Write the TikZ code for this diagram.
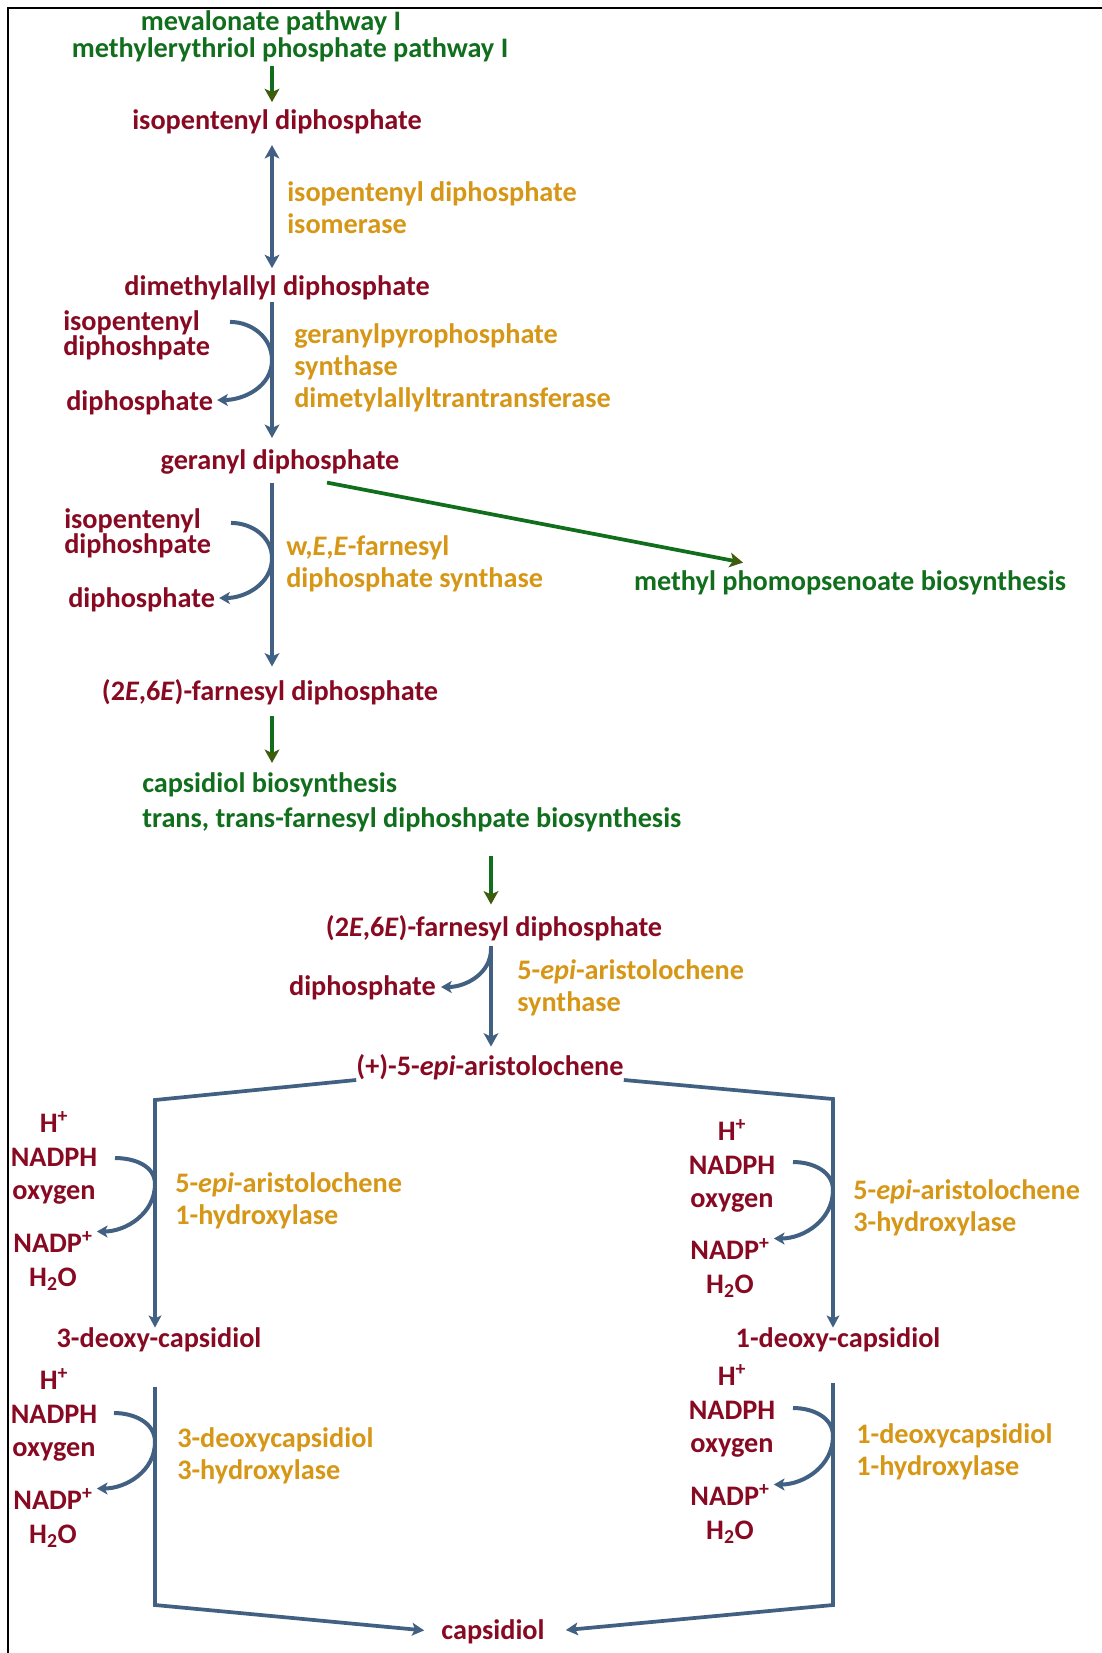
\documentclass[tikz,border=0pt]{standalone}
\usepackage{fontspec}
\setmainfont{Carlito}
\usetikzlibrary{arrows.meta, calc, positioning}

\definecolor{metred}{RGB}{136,10,34}
\definecolor{enzorange}{RGB}{214,150,22}
\definecolor{pwgreen}{RGB}{16,110,28}
\definecolor{pwhead}{RGB}{62,92,12}
\definecolor{rxnblue}{RGB}{66,96,130}

\begin{document}
\begin{tikzpicture}[x=0.75pt, y=-0.75pt]
		\tikzstyle{met} = [text=metred, font=\bfseries\fontsize{21.2}{24}\selectfont, inner sep=0pt]
		\tikzstyle{side} = [met, align=left, anchor=west, font=\bfseries\fontsize{21.2}{19}\selectfont]
		\tikzstyle{cof} = [met, align=center, font=\bfseries\fontsize{21.2}{25}\selectfont]
		\tikzstyle{enz} = [text=enzorange, font=\bfseries\fontsize{21.2}{24}\selectfont, inner sep=0pt, align=left, anchor=west]
		\tikzstyle{pw} = [text=pwgreen, font=\bfseries\fontsize{21.2}{26}\selectfont, inner sep=0pt]
		\tikzstyle{rxn} = [draw=rxnblue, line width=3.4pt, -{Stealth[length=10pt, width=11pt, inset=2.5pt]}]
		\tikzstyle{rev} = [draw=rxnblue, line width=3.4pt, {Stealth[length=10pt, width=11pt, inset=2.5pt]}-{Stealth[length=10pt, width=11pt, inset=2.5pt]}]
		\tikzstyle{sidearrow} = [draw=rxnblue, line width=3pt, -{Stealth[length=8pt, width=9pt, inset=2pt]}]
		\tikzstyle{branch} = [draw=rxnblue, line width=2.8pt, -{Stealth[length=9pt, width=9.5pt, inset=2pt]}]
		\tikzstyle{pwarrow} = [draw=pwgreen, line width=3.4pt, -{Stealth[length=10pt, width=11pt, inset=2.5pt, color=pwhead]}]
		
		\useasboundingbox (0,0) rectangle (1102,1653);
		\draw [line width=1.5pt, black] (1102,8) -- (8,8) -- (8,1653);
		
		% reaction axes
		\coordinate (axA) at (272,0);
		\coordinate (axB) at (491,0);
		\coordinate (axL) at (155,0);
		\coordinate (axR) at (833,0);
		\coordinate (cornL) at (155,1100);
		\coordinate (cornR) at (833,1099);
		\coordinate (cornL2) at (155,1605);
		\coordinate (cornR2) at (833,1605);
		
		% upper chain
		\node (mva) [pw] at (271,23) {mevalonate pathway I};
		\node (mep) [pw] at (290,50) {methylerythriol phosphate pathway I};
		\node (ipp) [met] at (277,122) {isopentenyl diphosphate};
		\node (ipi) [enz] at (287,208) {isopentenyl diphosphate\\isomerase};
		\node (dmapp) [met] at (277,288) {dimethylallyl diphosphate};
		\node (ippA) [side] at (63,335) {isopentenyl\\diphoshpate};
		\node (ppiA) [met, anchor=west] at (66,403) {diphosphate};
		\node (gps) [enz] at (294,368) {geranylpyrophosphate\\synthase\\dimetylallyltrantransferase};
		\node (gpp) [met] at (280,462) {geranyl diphosphate};
		\node (ippB) [side] at (64,533) {isopentenyl\\diphoshpate};
		\node (ppiB) [met, anchor=west] at (68,600) {diphosphate};
		\node (fpps) [enz] at (286,564) {w,\textit{E},\textit{E}-farnesyl\\diphosphate synthase};
		\node (mpb) [pw] at (850,583) {methyl phomopsenoate biosynthesis};
		\node (fpp) [met] at (270,692) {(2\textit{E},6\textit{E})-farnesyl diphosphate};
		\node (cap) [pw, align=left, anchor=west] at (142,802) {capsidiol biosynthesis\\trans, trans-farnesyl diphoshpate biosynthesis};
		\node (fppB) [met] at (494,928) {(2\textit{E},6\textit{E})-farnesyl diphosphate};
		\node (ppiC) [met, anchor=east] at (436,988) {diphosphate};
		\node (eas) [enz] at (517,988) {5-\textit{epi}-aristolochene\\synthase};
		\node (epi) [met] at (490,1067) {(+)-5-\textit{epi}-aristolochene};
		
		% left branch
		\node (cofL1) [cof] at (54,1158) {H\textsuperscript{+}\\NADPH\\oxygen};
		\node (prodL1) [cof] at (53,1261) {NADP\textsuperscript{+}\\H\textsubscript{2}O};
		\node (eahL) [enz] at (175,1201) {5-\textit{epi}-aristolochene\\1-hydroxylase};
		\node (dcL) [met] at (159,1340) {3-deoxy-capsidiol};
		\node (cofL2) [cof] at (54,1415) {H\textsuperscript{+}\\NADPH\\oxygen};
		\node (prodL2) [cof] at (53,1518) {NADP\textsuperscript{+}\\H\textsubscript{2}O};
		\node (dhL) [enz] at (177,1456) {3-deoxycapsidiol\\3-hydroxylase};
		
		% right branch
		\node (cofR1) [cof] at (732,1166) {H\textsuperscript{+}\\NADPH\\oxygen};
		\node (prodR1) [cof] at (730,1268) {NADP\textsuperscript{+}\\H\textsubscript{2}O};
		\node (eahR) [enz] at (853,1208) {5-\textit{epi}-aristolochene\\3-hydroxylase};
		\node (dcR) [met] at (838,1340) {1-deoxy-capsidiol};
		\node (cofR2) [cof] at (732,1411) {H\textsuperscript{+}\\NADPH\\oxygen};
		\node (prodR2) [cof] at (730,1514) {NADP\textsuperscript{+}\\H\textsubscript{2}O};
		\node (dhR) [enz] at (856,1452) {1-deoxycapsidiol\\1-hydroxylase};
		
		\node (cps) [met] at (493,1632) {capsidiol};
		
		% main steps
		\draw [pwarrow, shorten <=3pt, shorten >=5.6pt] (mep.south -| axA) -- (ipp.north -| axA);
		\draw [rev, shorten <=8pt, shorten >=5.6pt] (ipp.south -| axA) -- (dmapp.north -| axA);
		\draw [rxn, shorten <=1.5pt, shorten >=8.6pt] (dmapp.south -| axA) -- (gpp.north -| axA);
		\draw [rxn, shorten <=6.4pt, shorten >=9.4pt] (gpp.south -| axA) -- (fpp.north -| axA);
		\draw [pwarrow, line width=2.8pt] ($(gpp.south)+(47,8)$) -- ($(mpb.north)+(-107,-8)$);
		\draw [pwarrow, shorten <=7.9pt, shorten >=7pt] (fpp.south -| axA) -- (cap.north -| axA);
		\draw [pwarrow, shorten <=18.4pt, shorten >=7.9pt] (cap.south -| axB) -- (fppB.north -| axB);
		\draw [rxn, shorten <=3.4pt, shorten >=5.6pt] (fppB.south -| axB) -- (epi.north -| axB);
		\draw [branch] (epi.south west) -- (cornL) -- (dcL.north -| axL);
		\draw [branch] (epi.south east) -- (cornR) -- (dcR.north -| axR);
		\draw [branch, shorten <=26pt, shorten >=12.8pt] (dcL.south -| axL) -- (cornL2) -- (cps.west);
		\draw [branch, shorten <=23pt, shorten >=15.8pt] (dcR.south -| axR) -- (cornR2) -- (cps.east);
		
		% co-substrates
		\draw [sidearrow] ($(axA |- ippA.north)+(-42,12)$) to[out=0, in=90] (axA |- ippA.south) to[out=-90, in=0] ($(ppiA.east)+(4,-3)$);
		\draw [sidearrow] ($(axA |- ippB.north)+(-41,15)$) to[out=0, in=90] (axA |- ippB.south) to[out=-90, in=0] ($(ppiB.east)+(4,-2)$);
		\draw [sidearrow] ($(axB |- fppB.south)+(0,8)$) to[out=-90, in=0] ($(ppiC.east)+(5,-1)$);
		\draw [sidearrow] ($(axL |- cofL1.center)+(-40,0)$) to[out=0, in=90] ($(axL |- cofL1.center)+(0,26)$) to[out=-90, in=0] ($(prodL1.north east)+(4,0)$);
		\draw [sidearrow] ($(axL |- cofL2.center)+(-41,-2)$) to[out=0, in=90] ($(axL |- cofL2.center)+(0,27)$) to[out=-90, in=0] ($(prodL2.north east)+(4,0)$);
		\draw [sidearrow] ($(axR |- cofR1.center)+(-40,-4)$) to[out=0, in=90] ($(axR |- cofR1.center)+(0,24)$) to[out=-90, in=0] ($(prodR1.north east)+(4,0)$);
		\draw [sidearrow] ($(axR |- cofR2.center)+(-40,-3)$) to[out=0, in=90] ($(axR |- cofR2.center)+(0,25)$) to[out=-90, in=0] ($(prodR2.north east)+(4,0)$);
\end{tikzpicture}
\end{document}
